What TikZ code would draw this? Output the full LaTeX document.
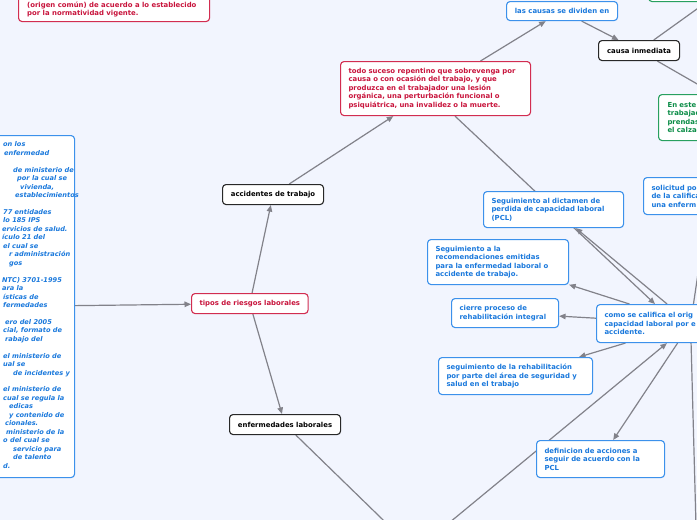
\documentclass[tikz,border=0pt]{standalone}
\usepackage{fontspec}
\setmainfont{DejaVu Sans}[ItalicFont={DejaVu Sans Oblique},BoldFont={DejaVu Sans Bold},BoldItalicFont={DejaVu Sans Bold Oblique}]
\usetikzlibrary{arrows.meta}
\pgfdeclarelayer{bglayer}
\pgfdeclarelayer{linklayer}
\pgfsetlayers{bglayer,linklayer,main}
\definecolor{bgc}{RGB}{242,245,254}
\definecolor{redt}{RGB}{200,20,60}
\definecolor{redb}{RGB}{210,45,80}
\definecolor{bluet}{RGB}{25,120,220}
\definecolor{blueb}{RGB}{60,145,235}
\definecolor{greent}{RGB}{10,140,70}
\definecolor{greenb}{RGB}{40,160,95}
\definecolor{blackb}{RGB}{40,40,40}
\definecolor{connc}{RGB}{130,130,138}
\tikzset{
 box/.style={draw, fill=white, rounded corners=3.5pt, line width=1.1pt, inner xsep=8pt, inner ysep=0pt,
   anchor=north west, font=\fontsize{6.9}{8.5}\selectfont\bfseries, align=left},
 redbox/.style={box, draw=redb, text=redt},
 bluebox/.style={box, draw=blueb, text=bluet},
 greenbox/.style={box, draw=greenb, text=greent, inner xsep=9pt},
 blackbox/.style={box, draw=blackb, text=black, align=center},
 plaintext/.style={inner sep=0pt, align=left},
 link/.style={draw=connc, line width=1.2pt, -{Triangle[length=6.5pt,width=5.5pt]}},
}
\begin{document}
\begin{tikzpicture}[x=1pt,y=-1pt]
\useasboundingbox (0,0) rectangle (697,520);
\begin{pgfonlayer}{bglayer}
\fill[bgc] (0,0) rectangle (697,520);
\end{pgfonlayer}
\clip (0,0) rectangle (697,520);

% off-screen / partly visible boxes
\node[redbox, minimum width=191pt, minimum height=51pt] (topredbox) at (18,-30) {};
\node[plaintext, anchor=south west, text=redt, font=\fontsize{6.9}{8.3}\selectfont\bfseries] (topredtext) at (27,17)
 {(origen común) de acuerdo a lo establecido\\por la normatividad vigente.};
\node[greenbox, minimum width=176pt, minimum height=42pt] (greentop) at (648,-41) {};

\node[bluebox, minimum width=154pt, minimum height=342pt] (leftbox) at (-80,135) {};
\node[plaintext, anchor=north west, text=bluet, font=\fontsize{6.6}{8.45}\selectfont\bfseries\itshape] (lefttext) at (0,141.7) {%
\hspace*{3pt}on los\\
\hspace*{4pt}enfermedad\\
\mbox{}\\
\hspace*{13pt}de ministerio de\\
\hspace*{17pt}por la cual se\\
\hspace*{20pt}vivienda,\\
\hspace*{15pt}establecimientos\\
\mbox{}\\
\hspace*{3pt}77 entidades\\
\hspace*{3pt}lo 185 IPS\\
\hspace*{2pt}ervicios de salud.\\
\hspace*{2pt}ículo 21 del\\
\hspace*{3pt}el cual se\\
\hspace*{9pt}r administración\\
\hspace*{9pt}gos\\
\mbox{}\\
\hspace*{2pt}NTC) 3701-1995\\
\hspace*{2pt}ara la\\
\hspace*{3pt}ísticas de\\
\hspace*{3pt}fermedades\\
\mbox{}\\
\hspace*{5pt}ero del 2005\\
\hspace*{3pt}cial, formato de\\
\hspace*{5pt}rabajo del\\
\mbox{}\\
\hspace*{3pt}el ministerio de\\
\hspace*{3pt}ual se\\
\hspace*{13pt}de incidentes y\\
\mbox{}\\
\hspace*{3pt}el ministerio de\\
\hspace*{3pt}cual se regula la\\
\hspace*{9pt}edicas\\
\hspace*{9pt}y contenido de\\
\hspace*{5pt}cionales.\\
\hspace*{6pt}ministerio de la\\
\hspace*{3pt}o del cual se\\
\hspace*{13pt}servicio para\\
\hspace*{13pt}de talento\\
\hspace*{3pt}d.};

% main nodes
\node[redbox, align=center, minimum width=116pt, minimum height=20pt] (tipos) at (191,293) {tipos de riesgos laborales};
\node[blackbox, minimum width=101pt, minimum height=20pt] (acc) at (222,184) {accidentes de trabajo};
\node[blackbox, minimum width=111pt, minimum height=20pt] (enf) at (229,414) {enfermedades laborales};
\node[redbox, text width=174pt, minimum height=54pt] (suceso) at (340,61)
 {todo suceso repentino que sobrevenga por\\causa o con ocasión del trabajo, y que\\produzca en el trabajador una lesión\\orgánica, una perturbación funcional o\\psiquiátrica, una invalidez o la muerte.};
\node[bluebox, align=center, minimum width=111pt, minimum height=19pt] (causas) at (506,1) {las causas se dividen en};
\node[blackbox, minimum width=81pt, minimum height=20pt] (inmediata) at (598,40) {causa inmediata};
\node[greenbox, text width=176pt, minimum height=46pt] (calzado) at (658,94) {En este\\trabajad\\prendas\\el calzad};
\node[bluebox, text width=116pt, minimum height=37pt] (solicitud) at (643,177) {solicitud po\\de la califica\\una enferm};
\node[bluebox, text width=124pt, minimum height=36pt] (dictamen) at (483,191)
 {Seguimiento al dictamen de\\perdida de capacidad laboral\\(PCL)};
\node[bluebox, text width=125pt, minimum height=45pt] (recom) at (427,239)
 {Seguimiento a la\\recomendaciones emitidas\\para la enfermedad laboral o\\accidente de trabajo.};
\node[bluebox, text width=91pt, minimum height=29pt] (cierre) at (451,298)
 {cierre proceso de\\rehabilitación integral};
\node[bluebox, text width=172pt, minimum height=38pt] (como) at (596,304)
 {como se califica el orig\\capacidad laboral por e\\accidente.};
\node[bluebox, text width=138pt, minimum height=37pt] (rehab) at (438,357)
 {seguimiento de la rehabilitación\\por parte del área de seguridad y\\salud en el trabajo};
\node[bluebox, text width=112pt, minimum height=37pt] (definicion) at (536,440)
 {definicion de acciones a\\seguir de acuerdo con la\\PCL};

\coordinate (bottomjoin) at (415,551);
\coordinate (bottomright) at (698,600);

\begin{pgfonlayer}{linklayer}
\clip (0,0) rectangle (697,520);
\path[link] (leftbox) -- (tipos);
\path[link] (tipos) -- (acc);
\path[link] (tipos) -- (enf);
\path[link] (acc) -- (suceso);
\path[link] (suceso) -- (causas);
\path[link] (causas) -- (inmediata);
\path[link] (inmediata) -- (greentop);
\path[link] (inmediata) -- (calzado);
\path[link] ([xshift=115pt]suceso.south west) -- ([xshift=59pt]como.north west);
\path[link] (como) -- (dictamen);
\path[link] (como) -- (recom);
\path[link] (como) -- (cierre);
\path[link] (como) -- (rehab);
\path[link] (como) -- (definicion);
\path[link] (como) -- (solicitud);
\path[link] (como) -- (bottomright);
\path[link] (enf) -- (bottomjoin);
\path[link] (bottomjoin) -- (como);
\end{pgfonlayer}
\end{tikzpicture}
\end{document}
